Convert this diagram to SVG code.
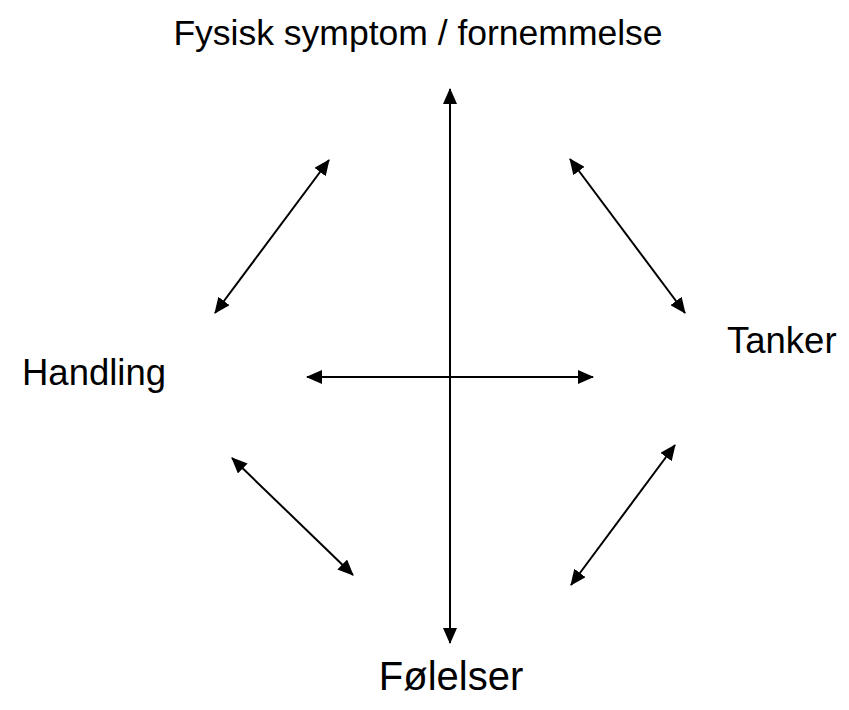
<svg xmlns="http://www.w3.org/2000/svg" width="849" height="710" viewBox="0 0 849 710">
<style>
.lbl{font-family:"Liberation Sans",Arial,sans-serif;fill:#000;}
.c{stroke:#000;stroke-width:2;fill:none;marker-start:url(#ah);marker-end:url(#ah);}
</style>
<defs>
<marker id="ah" markerUnits="userSpaceOnUse" markerWidth="16" markerHeight="14" refX="15" refY="7" orient="auto-start-reverse">
<path d="M0,0 L16,7 L0,14 Z" fill="#000"/>
</marker>
</defs>
<rect width="849" height="710" fill="#fff"/>
<g id="connectors">
<line class="c" x1="450" y1="89" x2="450" y2="643"/>
<line class="c" x1="307" y1="377" x2="593" y2="377"/>
<line class="c" x1="329" y1="160" x2="215" y2="313"/>
<line class="c" x1="570" y1="159" x2="685" y2="313"/>
<line class="c" x1="232" y1="458" x2="353" y2="575"/>
<line class="c" x1="675" y1="445" x2="571" y2="585"/>
</g>
<g id="node-fysisk"><text class="lbl" x="418" y="45" font-size="35.5" text-anchor="middle">Fysisk symptom / fornemmelse</text></g>
<g id="node-handling"><text class="lbl" x="22" y="385" font-size="36.5">Handling</text></g>
<g id="node-tanker"><text class="lbl" x="727" y="353" font-size="36.5">Tanker</text></g>
<g id="node-folelser"><text class="lbl" x="451" y="690" font-size="40" text-anchor="middle">Følelser</text></g>
</svg>
